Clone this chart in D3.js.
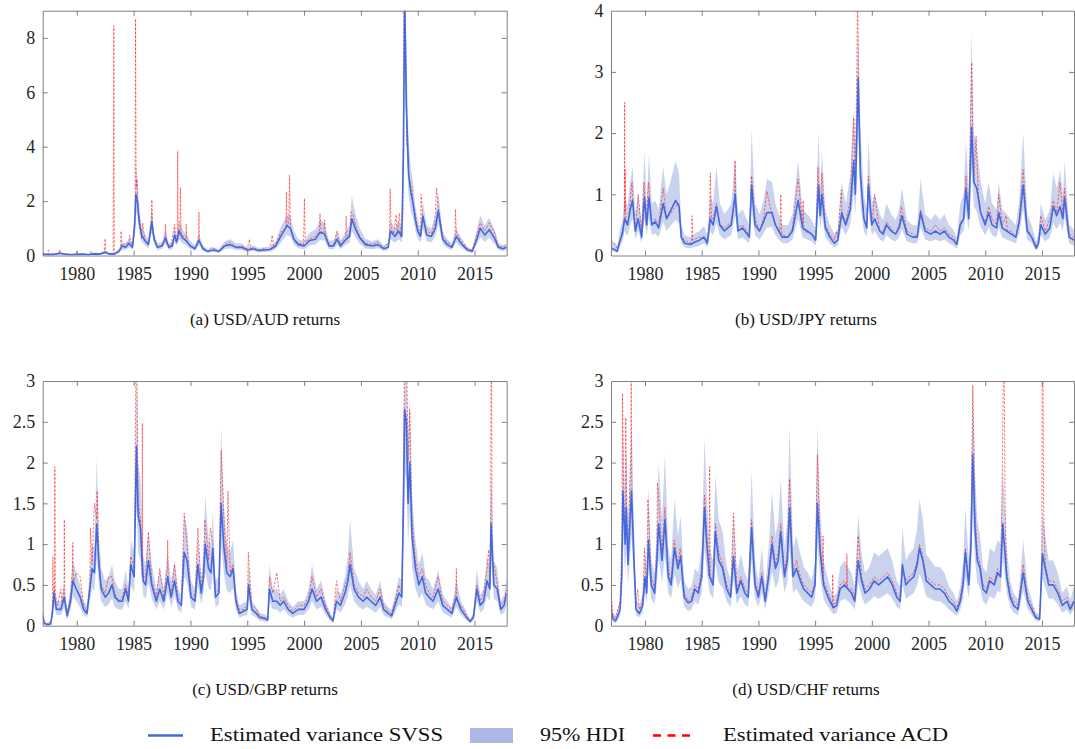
<!DOCTYPE html>
<html>
<head>
<meta charset="utf-8">
<script src="https://cdn.jsdelivr.net/npm/d3@7"></script>
<style>
  html, body { margin: 0; padding: 0; background: #fff; }
  svg { display: block; }
  .serif { font-family: "Liberation Serif", "LiberationSerif", "Times New Roman", Times, "DejaVu Serif", serif; }
</style>
</head>
<body>
<svg id="chart" width="1075" height="749"></svg>
<script>
// ---------------- DATA ----------------
const xTickYears = [1980, 1985, 1990, 1995, 2000, 2005, 2010, 2015];
const xDomainYears = [1977.0, 2017.83];

const yTicksAUD = [0, 2, 4, 6, 8];
const yTicksJPY = [0, 1, 2, 3, 4];
const yTicksGBP = [0, 0.5, 1, 1.5, 2, 2.5, 3];
const yTicksCHF = [0, 0.5, 1, 1.5, 2, 2.5, 3];

const captions = ["(a) USD/AUD returns", "(b) USD/JPY returns", "(c) USD/GBP returns", "(d) USD/CHF returns"];
const legendLabels = ["Estimated variance SVSS", "95% HDI", "Estimated variance ACD"];

// rows: [year, SVSS variance, HDI low, HDI high]
const audSvss = [
[1977.0,0.05,0.02,0.10],[1977.5,0.03,0.01,0.07],[1978.0,0.04,0.02,0.08],[1978.5,0.08,0.04,0.14],
[1979.0,0.04,0.02,0.08],[1979.5,0.03,0.01,0.06],[1980.0,0.04,0.02,0.08],[1980.5,0.05,0.02,0.09],
[1981.0,0.03,0.01,0.07],[1981.5,0.06,0.03,0.11],[1982.0,0.05,0.02,0.09],[1982.5,0.12,0.06,0.20],
[1982.8,0.06,0.03,0.11],[1983.3,0.05,0.02,0.10],[1983.7,0.15,0.08,0.25],[1984.0,0.35,0.22,0.50],
[1984.3,0.30,0.20,0.45],[1984.6,0.45,0.30,0.62],[1984.9,0.30,0.20,0.45],[1985.1,1.2,0.8,1.8],
[1985.2,2.25,1.6,3.3],[1985.35,1.95,1.4,2.8],[1985.5,1.2,0.85,1.7],[1985.7,0.75,0.5,1.05],
[1986.0,0.55,0.38,0.8],[1986.3,0.4,0.28,0.6],[1986.6,1.25,0.85,1.75],[1986.8,0.6,0.42,0.85],
[1987.1,0.3,0.2,0.45],[1987.5,0.35,0.24,0.5],[1987.8,0.65,0.45,0.95],[1988.1,0.3,0.2,0.45],
[1988.4,0.35,0.24,0.5],[1988.6,0.75,0.5,1.05],[1988.8,0.5,0.35,0.75],[1989.0,0.9,0.6,1.3],
[1989.3,0.65,0.45,0.95],[1989.6,0.55,0.38,0.8],[1990.0,0.35,0.24,0.52],[1990.4,0.25,0.17,0.38],
[1990.75,0.55,0.38,0.8],[1991.1,0.25,0.17,0.38],[1991.5,0.15,0.1,0.23],[1992.0,0.2,0.13,0.3],
[1992.5,0.15,0.1,0.23],[1993.0,0.35,0.23,0.52],[1993.5,0.4,0.27,0.6],[1994.0,0.3,0.2,0.45],
[1994.5,0.3,0.2,0.45],[1995.0,0.2,0.13,0.3],[1995.5,0.25,0.17,0.38],[1996.0,0.18,0.12,0.28],
[1996.5,0.2,0.13,0.3],[1997.0,0.22,0.15,0.33],[1997.5,0.35,0.23,0.52],[1998.0,0.75,0.5,1.1],
[1998.5,1.1,0.75,1.5],[1998.8,1.0,0.7,1.45],[1999.1,0.6,0.4,0.9],[1999.5,0.4,0.27,0.6],
[2000.0,0.35,0.23,0.52],[2000.5,0.55,0.37,0.85],[2001.0,0.6,0.4,0.95],[2001.4,0.85,0.57,1.3],
[2001.8,0.8,0.55,1.2],[2002.2,0.35,0.23,0.55],[2002.6,0.35,0.23,0.55],[2002.9,0.6,0.4,0.9],
[2003.2,0.35,0.23,0.55],[2003.7,0.6,0.4,0.9],[2004.0,0.7,0.47,1.1],[2004.2,1.35,0.9,2.2],
[2004.5,1.0,0.68,1.55],[2004.9,0.65,0.43,1.0],[2005.4,0.4,0.27,0.62],[2006.0,0.35,0.23,0.52],
[2006.5,0.4,0.27,0.6],[2007.0,0.25,0.17,0.38],[2007.4,0.3,0.2,0.45],[2007.6,0.9,0.6,1.3],
[2008.0,0.7,0.47,1.0],[2008.3,0.9,0.6,1.3],[2008.6,0.7,0.47,1.0],[2008.75,4.0,2.8,6.0],
[2008.85,9.6,7.5,11],[2009.0,5.5,4.0,7.5],[2009.2,3.0,2.2,4.2],[2009.4,2.3,1.6,3.2],
[2009.6,1.9,1.35,2.6],[2009.8,1.3,0.9,1.8],[2010.0,0.9,0.62,1.3],[2010.25,0.7,0.48,1.0],
[2010.45,1.45,1.0,2.0],[2010.8,0.75,0.52,1.1],[2011.2,0.7,0.48,1.0],[2011.55,1.0,0.7,1.45],
[2011.8,1.65,1.15,2.3],[2012.2,0.6,0.42,0.88],[2012.6,0.4,0.28,0.6],[2013.0,0.3,0.2,0.45],
[2013.4,0.7,0.48,1.0],[2013.9,0.4,0.28,0.6],[2014.4,0.2,0.13,0.3],[2014.8,0.15,0.1,0.23],
[2015.2,0.6,0.4,0.9],[2015.5,1.0,0.68,1.5],[2015.9,0.75,0.5,1.1],[2016.3,0.95,0.65,1.4],
[2016.8,0.6,0.4,0.9],[2017.1,0.3,0.2,0.45],[2017.5,0.25,0.17,0.38],[2017.83,0.3,0.2,0.45]
];
// rows: [year, ACD variance]
const audAcd = [
[1977.0,0.05],[1977.45,0.05],[1977.5,0.2],[1977.55,0.05],[1978.0,0.05],[1978.45,0.08],[1978.5,0.22],[1978.55,0.08],
[1979.5,0.04],[1979.95,0.04],[1980.0,0.15],[1980.05,0.04],[1981.2,0.04],[1981.25,0.15],[1981.3,0.05],[1982.4,0.08],
[1982.5,0.62],[1982.55,0.1],[1983.2,0.05],[1983.26,8.45],[1983.3,0.08],[1983.85,0.2],[1983.9,0.9],[1983.95,0.35],
[1984.6,0.5],[1984.65,0.75],[1984.9,0.3],[1985.12,1.0],[1985.17,8.7],[1985.22,2.5],[1985.3,2.8],[1985.4,1.6],
[1985.6,1.2],[1985.7,0.6],[1985.8,1.2],[1986.0,0.5],[1986.3,0.45],[1986.55,0.9],[1986.6,2.05],[1986.7,0.8],
[1987.1,0.3],[1987.5,0.4],[1987.75,0.5],[1987.8,1.15],[1987.9,0.4],[1988.3,0.35],[1988.6,1.15],[1988.7,0.5],
[1988.85,0.8],[1988.88,3.85],[1988.92,0.9],[1989.08,0.9],[1989.12,2.5],[1989.18,0.8],[1989.6,0.6],[1989.62,1.15],
[1989.7,0.5],[1990.0,0.35],[1990.4,0.25],[1990.7,0.6],[1990.75,1.6],[1990.8,0.5],[1991.1,0.3],[1991.5,0.15],
[1991.9,0.3],[1992.5,0.15],[1993.0,0.4],[1993.5,0.5],[1994.0,0.3],[1994.5,0.35],[1995.0,0.25],[1995.2,0.6],
[1995.3,0.2],[1995.5,0.3],[1996.0,0.2],[1996.5,0.25],[1997.0,0.2],[1997.2,0.75],[1997.3,0.3],[1997.5,0.4],
[1998.0,0.9],[1998.4,1.0],[1998.45,2.35],[1998.5,1.1],[1998.65,1.2],[1998.72,2.95],[1998.8,1.0],[1999.1,0.6],
[1999.5,0.45],[1999.95,0.4],[2000.03,2.1],[2000.1,0.5],[2000.5,0.6],[2001.0,0.7],[2001.35,0.9],[2001.4,1.55],
[2001.5,0.8],[2001.75,0.9],[2001.8,1.3],[2001.9,0.7],[2002.3,0.35],[2002.6,0.4],[2002.9,0.9],[2003.2,0.4],
[2003.65,0.7],[2003.7,1.45],[2003.8,0.6],[2004.0,0.8],[2004.15,1.6],[2004.3,1.5],[2004.6,1.0],[2004.9,0.7],
[2005.4,0.45],[2006.0,0.4],[2006.5,0.5],[2007.0,0.3],[2007.5,0.5],[2007.58,2.45],[2007.65,1.0],[2007.9,0.8],
[2008.1,1.5],[2008.2,0.8],[2008.4,1.55],[2008.5,0.7],[2008.7,1.5],[2008.78,9.5],[2008.9,9.5],[2009.0,6.0],
[2009.03,4.0],[2009.1,4.0],[2009.2,3.0],[2009.35,2.6],[2009.5,2.5],[2009.6,1.8],[2009.8,1.5],[2010.0,1.0],
[2010.25,0.8],[2010.3,2.25],[2010.4,1.5],[2010.8,0.9],[2011.2,0.8],[2011.5,1.2],[2011.66,2.5],[2011.8,1.8],
[2012.2,0.7],[2012.6,0.5],[2013.0,0.35],[2013.28,0.6],[2013.32,1.7],[2013.4,0.8],[2013.9,0.5],[2014.4,0.25],
[2014.8,0.2],[2015.2,0.8],[2015.5,1.2],[2015.9,0.9],[2016.3,1.2],[2016.8,0.8],[2017.1,0.35],[2017.5,0.3],[2017.83,0.4]
];

const jpySvss = [
[1977.0,0.12,0.07,0.25],[1977.3,0.1,0.06,0.2],[1977.55,0.07,0.04,0.15],[1977.8,0.25,0.15,0.42],
[1978.0,0.35,0.22,0.55],[1978.2,0.6,0.4,0.95],[1978.45,0.5,0.32,0.8],[1978.7,0.75,0.5,1.2],
[1978.9,0.9,0.6,1.45],[1979.15,0.4,0.26,0.7],[1979.4,0.6,0.4,1.0],[1979.7,0.3,0.2,0.55],
[1979.95,0.95,0.6,1.7],[1980.15,0.5,0.33,0.85],[1980.35,0.95,0.6,1.65],[1980.6,0.5,0.33,0.85],
[1980.9,0.55,0.36,0.9],[1981.2,0.45,0.3,0.75],[1981.6,0.85,0.55,1.45],[1981.9,0.6,0.4,1.0],
[1982.3,0.75,0.5,1.25],[1982.7,0.9,0.58,1.55],[1983.0,0.8,0.52,1.35],[1983.2,0.3,0.2,0.5],
[1983.5,0.2,0.13,0.33],[1984.0,0.18,0.12,0.3],[1984.4,0.22,0.14,0.36],[1984.8,0.25,0.16,0.4],
[1985.2,0.3,0.2,0.48],[1985.5,0.2,0.13,0.33],[1985.75,0.6,0.4,1.0],[1986.0,0.5,0.33,0.85],
[1986.3,0.8,0.53,1.45],[1986.6,0.5,0.33,0.85],[1987.0,0.4,0.26,0.68],[1987.3,0.45,0.3,0.75],
[1987.6,0.5,0.33,0.85],[1987.95,1.0,0.65,1.6],[1988.2,0.4,0.26,0.68],[1988.6,0.45,0.3,0.75],
[1989.0,0.35,0.23,0.58],[1989.2,0.3,0.2,0.5],[1989.4,1.15,0.75,2.05],[1989.7,0.5,0.33,0.85],
[1990.1,0.4,0.26,0.68],[1990.45,0.55,0.36,0.9],[1990.75,0.7,0.46,1.25],[1991.2,0.7,0.46,1.2],
[1991.5,0.5,0.33,0.85],[1991.8,0.4,0.26,0.68],[1992.1,0.3,0.2,0.5],[1992.6,0.3,0.2,0.5],
[1993.0,0.4,0.26,0.68],[1993.5,0.9,0.6,1.55],[1993.9,0.45,0.3,0.75],[1994.3,0.4,0.26,0.68],
[1994.7,0.35,0.23,0.58],[1995.05,0.25,0.16,0.42],[1995.3,1.15,0.75,2.05],[1995.45,0.65,0.43,1.1],
[1995.6,1.0,0.65,1.7],[1995.9,0.45,0.3,0.75],[1996.3,0.3,0.2,0.5],[1996.7,0.2,0.13,0.35],
[1997.0,0.25,0.16,0.42],[1997.35,0.7,0.46,1.2],[1997.7,0.5,0.33,0.85],[1998.1,0.75,0.5,1.3],
[1998.4,1.55,1.0,2.4],[1998.55,1.0,0.65,1.8],[1998.8,2.9,2.0,3.7],[1999.0,1.3,0.85,2.1],
[1999.3,0.6,0.4,1.0],[1999.55,0.45,0.3,0.75],[1999.7,1.15,0.75,1.9],[2000.0,0.5,0.33,0.85],
[2000.25,0.6,0.4,1.0],[2000.7,0.4,0.26,0.68],[2001.0,0.35,0.23,0.58],[2001.3,0.5,0.33,0.85],
[2001.7,0.4,0.26,0.68],[2002.1,0.35,0.23,0.58],[2002.4,0.45,0.3,0.75],[2002.65,0.65,0.43,1.1],
[2003.1,0.35,0.23,0.58],[2003.6,0.3,0.2,0.5],[2004.0,0.3,0.2,0.5],[2004.3,0.7,0.46,1.25],
[2004.7,0.4,0.26,0.68],[2005.2,0.35,0.23,0.58],[2005.6,0.4,0.26,0.68],[2006.0,0.35,0.23,0.58],
[2006.4,0.4,0.26,0.68],[2006.8,0.3,0.2,0.5],[2007.2,0.25,0.16,0.42],[2007.5,0.18,0.11,0.3],
[2007.8,0.5,0.33,0.85],[2008.1,0.6,0.4,1.0],[2008.3,1.1,0.72,1.9],[2008.55,0.6,0.4,1.0],
[2008.8,2.1,1.4,3.65],[2009.0,1.2,0.8,2.0],[2009.25,1.1,0.72,1.8],[2009.6,0.7,0.46,1.2],
[2010.0,0.5,0.33,0.85],[2010.3,0.7,0.46,1.2],[2010.6,0.5,0.33,0.85],[2011.0,0.45,0.3,0.75],
[2011.2,0.7,0.46,1.2],[2011.5,0.45,0.3,0.75],[2011.9,0.4,0.26,0.68],[2012.3,0.35,0.23,0.58],
[2012.7,0.3,0.2,0.5],[2013.0,0.55,0.36,0.9],[2013.35,1.15,0.75,2.0],[2013.7,0.4,0.26,0.68],
[2014.1,0.3,0.2,0.5],[2014.5,0.12,0.08,0.22],[2014.7,0.2,0.13,0.35],[2014.9,0.5,0.33,0.85],
[2015.3,0.35,0.23,0.58],[2015.7,0.45,0.3,0.75],[2016.0,0.8,0.53,1.35],[2016.3,0.65,0.43,1.1],
[2016.6,0.8,0.53,1.4],[2016.85,0.6,0.4,1.0],[2017.0,0.95,0.62,1.55],[2017.4,0.3,0.2,0.5],
[2017.83,0.25,0.16,0.42]
];
const jpyAcd = [
[1977.0,0.25],[1977.3,0.2],[1977.55,0.12],[1977.8,0.25],[1978.0,0.4],[1978.18,0.6],[1978.2,2.5],[1978.22,0.7],
[1978.25,1.4],[1978.3,0.6],[1978.5,0.5],[1978.85,1.2],[1979.0,0.7],[1979.15,0.4],[1979.4,1.0],[1979.7,0.35],
[1979.9,1.2],[1980.1,0.5],[1980.3,1.2],[1980.6,0.5],[1980.9,0.6],[1981.2,0.5],[1981.6,1.1],[1981.9,0.6],
[1982.3,0.7],[1982.7,0.8],[1983.0,0.85],[1983.2,0.3],[1983.5,0.25],[1984.0,0.2],[1984.12,0.25],[1984.15,0.65],
[1984.2,0.25],[1984.8,0.3],[1985.2,0.3],[1985.5,0.25],[1985.7,0.6],[1985.76,1.35],[1985.85,0.6],[1986.0,0.6],
[1986.3,0.85],[1986.6,0.5],[1987.0,0.45],[1987.3,0.5],[1987.6,0.55],[1987.9,0.9],[1987.94,1.55],[1988.0,0.7],
[1988.2,0.45],[1988.6,0.5],[1989.0,0.4],[1989.2,0.3],[1989.4,1.3],[1989.7,0.6],[1990.1,0.4],[1990.45,0.6],
[1990.75,1.05],[1991.2,0.65],[1991.5,0.5],[1991.9,0.4],[1991.97,1.0],[1992.05,0.35],[1992.6,0.3],[1993.0,0.45],
[1993.5,1.25],[1993.9,0.5],[1993.95,0.9],[1994.0,0.4],[1994.7,0.35],[1995.05,0.3],[1995.25,1.45],[1995.45,0.7],
[1995.6,1.35],[1995.9,0.5],[1996.3,0.35],[1996.7,0.25],[1996.9,0.4],[1997.0,0.3],[1997.3,1.07],[1997.4,0.6],
[1997.7,0.55],[1998.1,0.9],[1998.4,2.25],[1998.55,1.2],[1998.75,4.2],[1998.85,2.5],[1999.0,1.4],[1999.3,0.6],
[1999.55,0.45],[1999.7,1.3],[2000.0,0.5],[2000.25,1.0],[2000.7,0.4],[2001.0,0.4],[2001.3,0.55],[2001.7,0.45],
[2002.1,0.35],[2002.4,0.5],[2002.6,0.8],[2003.1,0.4],[2003.6,0.35],[2004.0,0.3],[2004.3,0.75],[2004.7,0.45],
[2005.2,0.4],[2005.6,0.5],[2006.0,0.4],[2006.4,0.45],[2006.8,0.35],[2007.2,0.3],[2007.5,0.22],[2007.8,0.55],
[2008.1,0.6],[2008.3,1.3],[2008.55,0.7],[2008.8,3.15],[2008.9,2.0],[2009.0,1.3],[2009.2,1.95],[2009.4,1.0],
[2009.6,0.7],[2010.0,0.55],[2010.3,0.8],[2010.6,0.6],[2011.0,0.5],[2011.2,1.0],[2011.5,0.5],[2011.85,0.65],
[2011.95,0.4],[2012.3,0.4],[2012.7,0.3],[2013.0,0.6],[2013.35,1.4],[2013.7,0.45],[2014.1,0.3],[2014.5,0.15],
[2014.7,0.25],[2014.9,0.65],[2015.3,0.4],[2015.7,0.6],[2016.0,0.9],[2016.3,0.7],[2016.6,1.2],[2016.85,0.7],
[2017.0,1.1],[2017.4,0.35],[2017.83,0.3]
];

const gbpSvss = [
[1977.0,0.12,0.06,0.18],[1977.15,0.03,0.01,0.06],[1977.4,0.01,0.0,0.03],[1977.7,0.02,0.01,0.05],
[1977.85,0.15,0.08,0.25],[1978.0,0.4,0.25,0.55],[1978.2,0.2,0.13,0.3],[1978.6,0.2,0.13,0.3],
[1978.9,0.35,0.22,0.5],[1979.15,0.12,0.07,0.2],[1979.45,0.3,0.2,0.45],[1979.65,0.55,0.36,0.8],
[1979.95,0.45,0.3,0.65],[1980.3,0.35,0.22,0.5],[1980.6,0.2,0.13,0.3],[1980.9,0.15,0.1,0.25],
[1981.15,0.45,0.3,0.68],[1981.35,0.7,0.46,1.0],[1981.55,0.65,0.43,0.95],[1981.75,1.25,0.82,2.05],
[1981.95,0.75,0.5,1.1],[1982.15,0.45,0.3,0.7],[1982.5,0.35,0.23,0.55],[1982.8,0.4,0.26,0.6],
[1983.1,0.5,0.33,0.75],[1983.35,0.35,0.23,0.55],[1983.7,0.3,0.2,0.45],[1984.0,0.3,0.2,0.45],
[1984.3,0.45,0.3,0.68],[1984.55,0.3,0.2,0.45],[1984.75,0.75,0.5,1.05],[1985.05,0.6,0.4,0.9],
[1985.25,2.2,1.5,3.1],[1985.4,1.35,0.9,2.0],[1985.6,1.2,0.8,1.8],[1985.85,0.55,0.37,0.85],
[1986.05,0.5,0.33,0.75],[1986.3,0.8,0.53,1.15],[1986.6,0.5,0.33,0.75],[1987.0,0.3,0.2,0.45],
[1987.3,0.45,0.3,0.68],[1987.65,0.3,0.2,0.45],[1988.0,0.6,0.4,0.9],[1988.3,0.35,0.23,0.55],
[1988.6,0.55,0.37,0.8],[1988.9,0.3,0.2,0.45],[1989.2,0.25,0.16,0.38],[1989.45,0.9,0.6,1.35],
[1989.7,0.8,0.53,1.2],[1990.05,0.35,0.23,0.55],[1990.4,0.3,0.2,0.45],[1990.65,0.75,0.5,1.1],
[1990.95,0.4,0.26,0.6],[1991.15,0.6,0.4,0.9],[1991.3,1.0,0.66,1.6],[1991.6,0.7,0.46,1.05],
[1991.8,0.65,0.43,1.0],[1991.97,0.95,0.63,1.4],[1992.2,0.35,0.23,0.55],[1992.5,0.4,0.26,0.6],
[1992.7,1.5,1.0,2.45],[1992.95,0.95,0.63,1.45],[1993.2,0.65,0.43,1.0],[1993.5,0.6,0.4,0.9],
[1993.75,0.7,0.46,1.05],[1994.0,0.3,0.2,0.45],[1994.3,0.15,0.1,0.25],[1994.7,0.18,0.12,0.28],
[1995.0,0.2,0.13,0.3],[1995.12,0.5,0.33,0.75],[1995.4,0.2,0.13,0.3],[1995.8,0.15,0.1,0.23],
[1996.1,0.1,0.06,0.16],[1996.5,0.09,0.05,0.14],[1996.8,0.07,0.04,0.12],[1996.95,0.45,0.3,0.75],
[1997.25,0.3,0.2,0.45],[1997.6,0.3,0.2,0.45],[1997.9,0.25,0.16,0.38],[1998.2,0.3,0.2,0.45],
[1998.6,0.2,0.13,0.3],[1999.0,0.15,0.1,0.23],[1999.5,0.2,0.13,0.3],[2000.0,0.2,0.13,0.3],
[2000.4,0.3,0.2,0.45],[2000.7,0.45,0.3,0.75],[2001.1,0.3,0.2,0.45],[2001.5,0.35,0.23,0.55],
[2001.9,0.2,0.13,0.3],[2002.3,0.1,0.06,0.16],[2002.55,0.06,0.03,0.1],[2002.85,0.3,0.2,0.45],
[2003.2,0.25,0.16,0.38],[2003.6,0.4,0.26,0.6],[2003.85,0.55,0.36,0.85],[2004.05,0.75,0.5,1.3],
[2004.4,0.45,0.3,0.7],[2004.8,0.35,0.23,0.55],[2005.2,0.3,0.2,0.45],[2005.5,0.35,0.23,0.55],
[2005.9,0.3,0.2,0.45],[2006.3,0.25,0.16,0.38],[2006.7,0.35,0.23,0.55],[2007.0,0.2,0.13,0.3],
[2007.4,0.15,0.1,0.23],[2007.7,0.12,0.08,0.2],[2008.0,0.25,0.16,0.38],[2008.35,0.4,0.26,0.6],
[2008.6,0.35,0.23,0.55],[2008.75,1.5,1.0,2.3],[2008.85,2.65,1.9,3.3],[2009.0,2.5,1.8,3.2],
[2009.15,1.5,1.0,2.2],[2009.3,2.0,1.4,2.8],[2009.5,1.1,0.73,1.6],[2009.8,0.7,0.46,1.05],
[2010.1,0.5,0.33,0.75],[2010.4,0.6,0.4,0.9],[2010.7,0.4,0.26,0.6],[2011.0,0.35,0.23,0.55],
[2011.35,0.3,0.2,0.45],[2011.8,0.45,0.3,0.68],[2012.2,0.25,0.16,0.38],[2012.6,0.2,0.13,0.3],
[2013.0,0.15,0.1,0.23],[2013.4,0.35,0.23,0.55],[2013.8,0.2,0.13,0.3],[2014.2,0.12,0.08,0.2],
[2014.6,0.05,0.03,0.08],[2014.9,0.1,0.06,0.16],[2015.2,0.45,0.3,0.7],[2015.5,0.25,0.16,0.38],
[2015.8,0.3,0.2,0.45],[2016.1,0.55,0.36,0.85],[2016.35,0.45,0.3,0.7],[2016.45,1.25,0.8,1.9],
[2016.7,0.5,0.33,0.8],[2017.0,0.45,0.3,0.7],[2017.3,0.2,0.13,0.3],[2017.6,0.25,0.16,0.38],
[2017.83,0.4,0.26,0.62]
];
const gbpAcd = [
[1977.0,0.15],[1977.15,0.04],[1977.4,0.02],[1977.55,0.05],[1977.7,0.02],[1977.85,0.2],[1977.9,0.85],[1977.95,0.3],
[1978.05,0.45],[1978.07,1.95],[1978.1,0.4],[1978.3,0.25],[1978.6,0.45],[1978.7,0.25],[1978.88,0.5],[1978.9,1.3],
[1978.95,0.3],[1979.15,0.15],[1979.45,0.35],[1979.62,0.7],[1979.65,1.02],[1979.7,0.5],[1979.95,0.65],[1980.3,0.6],
[1980.6,0.25],[1980.9,0.18],[1981.15,0.5],[1981.2,1.2],[1981.35,0.75],[1981.55,1.5],[1981.75,1.3],[1981.8,1.65],
[1981.95,0.8],[1982.15,0.5],[1982.5,0.4],[1982.8,0.6],[1983.1,0.6],[1983.35,0.4],[1983.7,0.3],[1984.0,0.35],
[1984.3,0.5],[1984.55,0.35],[1984.75,0.85],[1985.05,0.7],[1985.2,3.1],[1985.3,3.1],[1985.4,1.5],[1985.6,1.3],
[1985.75,0.6],[1985.77,2.48],[1985.8,0.6],[1986.05,0.6],[1986.3,1.15],[1986.6,0.55],[1987.0,0.35],[1987.3,0.7],
[1987.65,0.35],[1987.95,0.7],[1988.0,1.05],[1988.05,0.5],[1988.3,0.4],[1988.6,0.75],[1988.9,0.35],[1989.2,0.3],
[1989.45,1.38],[1989.7,1.0],[1990.05,0.4],[1990.4,0.35],[1990.66,1.2],[1990.95,0.45],[1991.15,0.7],[1991.27,1.3],
[1991.6,0.8],[1991.75,1.2],[1991.97,1.0],[1992.2,0.4],[1992.5,0.45],[1992.7,2.15],[1992.95,1.3],[1993.2,0.7],
[1993.3,1.65],[1993.5,0.65],[1993.75,0.75],[1994.0,0.35],[1994.3,0.2],[1994.7,0.2],[1995.0,0.25],[1995.1,0.9],
[1995.4,0.25],[1995.8,0.2],[1996.1,0.12],[1996.5,0.1],[1996.8,0.08],[1996.95,0.6],[1997.25,0.4],[1997.6,0.65],
[1997.9,0.3],[1998.2,0.35],[1998.6,0.25],[1999.0,0.18],[1999.5,0.25],[2000.0,0.25],[2000.4,0.35],[2000.7,0.6],
[2001.1,0.35],[2001.5,0.45],[2001.9,0.25],[2002.3,0.12],[2002.55,0.07],[2002.85,0.55],[2003.2,0.3],[2003.6,0.5],
[2003.85,0.6],[2004.05,0.9],[2004.4,0.5],[2004.8,0.4],[2005.2,0.35],[2005.5,0.45],[2005.9,0.35],[2006.3,0.3],
[2006.7,0.45],[2007.0,0.25],[2007.4,0.18],[2007.7,0.15],[2008.0,0.3],[2008.35,0.5],[2008.6,0.4],[2008.75,2.0],
[2008.82,3.1],[2009.05,3.1],[2009.15,2.0],[2009.3,2.65],[2009.5,1.3],[2009.8,0.8],[2010.1,0.6],[2010.4,0.7],
[2010.7,0.5],[2011.0,0.4],[2011.35,0.35],[2011.8,0.6],[2012.2,0.3],[2012.6,0.25],[2013.0,0.2],[2013.35,0.4],
[2013.4,0.7],[2013.45,0.3],[2013.8,0.25],[2014.2,0.15],[2014.6,0.06],[2014.9,0.12],[2015.2,0.5],[2015.5,0.3],
[2015.8,0.4],[2016.1,0.7],[2016.25,0.93],[2016.35,0.5],[2016.42,1.5],[2016.45,3.1],[2016.5,3.1],[2016.55,0.8],
[2016.7,0.75],[2017.0,0.5],[2017.3,0.25],[2017.6,0.3],[2017.83,0.45]
];

const chfSvss = [
[1977.0,0.18,0.1,0.3],[1977.2,0.08,0.04,0.15],[1977.4,0.06,0.03,0.12],[1977.6,0.12,0.07,0.2],
[1977.8,0.2,0.12,0.32],[1977.95,0.6,0.38,0.95],[1978.05,1.65,1.1,2.5],[1978.25,1.0,0.65,1.55],
[1978.35,1.45,0.95,2.2],[1978.5,0.75,0.5,1.15],[1978.65,1.2,0.8,1.8],[1978.8,1.65,1.1,2.45],
[1979.0,0.9,0.6,1.4],[1979.2,0.2,0.13,0.32],[1979.5,0.15,0.1,0.25],[1979.8,0.25,0.16,0.4],
[1980.0,0.6,0.4,0.95],[1980.15,0.4,0.26,0.65],[1980.3,1.05,0.7,1.7],[1980.55,0.5,0.33,0.8],
[1980.85,0.4,0.26,0.65],[1981.05,0.8,0.53,1.25],[1981.2,1.25,0.82,2.0],[1981.5,0.8,0.53,1.3],
[1981.76,1.3,0.85,2.1],[1982.05,0.6,0.4,0.95],[1982.3,0.5,0.33,0.8],[1982.6,0.95,0.63,1.55],
[1982.9,0.7,0.46,1.1],[1983.15,0.85,0.56,1.35],[1983.45,0.35,0.23,0.55],[1983.8,0.28,0.18,0.45],
[1984.1,0.3,0.2,0.48],[1984.4,0.45,0.3,0.7],[1984.7,0.4,0.26,0.65],[1985.0,0.6,0.4,0.95],
[1985.25,1.45,0.95,2.3],[1985.45,1.0,0.66,1.6],[1985.7,0.6,0.4,0.95],[1986.0,0.5,0.33,0.8],
[1986.2,1.15,0.76,1.85],[1986.5,0.8,0.53,1.3],[1986.85,0.7,0.46,1.15],[1987.2,0.45,0.3,0.72],
[1987.55,0.35,0.23,0.55],[1987.8,0.85,0.56,1.35],[1988.1,0.4,0.26,0.65],[1988.45,0.55,0.36,0.88],
[1988.8,0.4,0.26,0.65],[1989.1,0.35,0.23,0.55],[1989.4,1.2,0.8,1.9],[1989.7,0.5,0.33,0.8],
[1990.0,0.35,0.23,0.55],[1990.3,0.6,0.4,0.95],[1990.6,0.3,0.2,0.48],[1990.9,0.6,0.4,0.95],
[1991.2,1.0,0.66,1.65],[1991.5,0.7,0.46,1.1],[1991.75,0.8,0.53,1.3],[1991.97,1.15,0.76,1.8],
[1992.3,0.6,0.4,0.95],[1992.55,0.8,0.53,1.3],[1992.75,1.45,0.95,2.45],[1993.05,0.6,0.4,0.95],
[1993.35,0.7,0.46,1.1],[1993.7,0.55,0.36,0.88],[1994.0,0.45,0.3,0.72],[1994.35,0.4,0.26,0.65],
[1994.7,0.35,0.23,0.55],[1995.0,0.5,0.33,0.8],[1995.2,1.5,1.0,2.45],[1995.45,0.9,0.6,1.4],
[1995.75,0.5,0.33,0.8],[1996.0,0.4,0.26,0.65],[1996.3,0.3,0.2,0.48],[1996.6,0.22,0.14,0.36],
[1996.9,0.25,0.16,0.4],[1997.2,0.45,0.3,0.72],[1997.6,0.5,0.33,0.8],[1997.9,0.45,0.3,0.72],
[1998.2,0.4,0.26,0.65],[1998.5,0.3,0.2,0.48],[1998.8,0.8,0.53,1.35],[1999.1,0.55,0.36,0.88],
[1999.4,0.4,0.26,0.65],[1999.8,0.45,0.3,0.72],[2000.2,0.55,0.36,0.9],[2000.6,0.5,0.33,0.85],
[2001.0,0.55,0.36,0.9],[2001.4,0.6,0.4,0.95],[2001.8,0.5,0.33,0.8],[2002.2,0.35,0.23,0.55],
[2002.5,0.3,0.2,0.48],[2002.7,0.75,0.5,1.2],[2003.0,0.5,0.33,0.8],[2003.3,0.55,0.36,0.88],
[2003.7,0.6,0.4,0.95],[2004.0,0.75,0.5,1.2],[2004.2,0.95,0.63,1.55],[2004.5,0.8,0.53,1.3],
[2004.8,0.55,0.36,0.88],[2005.2,0.5,0.33,0.8],[2005.6,0.45,0.3,0.72],[2006.0,0.45,0.3,0.72],
[2006.4,0.4,0.26,0.65],[2006.8,0.3,0.2,0.48],[2007.2,0.25,0.16,0.4],[2007.5,0.18,0.12,0.3],
[2007.8,0.3,0.2,0.48],[2008.05,0.5,0.33,0.8],[2008.25,0.9,0.6,1.45],[2008.55,0.5,0.33,0.8],
[2008.75,1.0,0.66,1.6],[2008.9,2.1,1.4,3.0],[2009.1,1.2,0.8,1.9],[2009.3,0.8,0.53,1.3],
[2009.55,0.7,0.46,1.1],[2009.8,0.45,0.3,0.72],[2010.1,0.4,0.26,0.65],[2010.4,0.55,0.36,0.95],
[2010.8,0.5,0.33,0.9],[2011.1,0.65,0.43,1.05],[2011.35,0.6,0.4,1.0],[2011.55,1.25,0.83,1.95],
[2011.9,0.6,0.4,0.95],[2012.2,0.35,0.23,0.55],[2012.5,0.25,0.16,0.4],[2012.9,0.2,0.13,0.32],
[2013.15,0.45,0.3,0.72],[2013.35,0.65,0.43,1.05],[2013.75,0.3,0.2,0.48],[2014.1,0.2,0.13,0.32],
[2014.45,0.1,0.06,0.16],[2014.8,0.08,0.05,0.14],[2015.05,0.88,0.58,1.4],[2015.3,0.7,0.46,1.1],
[2015.6,0.5,0.33,0.8],[2016.0,0.5,0.33,0.8],[2016.4,0.4,0.26,0.65],[2016.8,0.25,0.16,0.4],
[2017.2,0.3,0.2,0.48],[2017.5,0.2,0.13,0.32],[2017.83,0.3,0.2,0.48]
];
const chfAcd = [
[1977.0,0.4],[1977.2,0.12],[1977.4,0.1],[1977.6,0.2],[1977.8,0.3],[1977.95,1.0],[1978.02,2.85],[1978.1,1.5],
[1978.25,1.1],[1978.3,2.55],[1978.38,1.3],[1978.5,0.9],[1978.65,1.7],[1978.75,2.1],[1978.78,3.0],[1978.85,1.5],
[1979.0,0.9],[1979.2,0.25],[1979.35,0.45],[1979.5,0.2],[1979.8,0.3],[1979.95,0.95],[1980.15,0.45],[1980.25,1.55],
[1980.55,0.6],[1980.85,0.45],[1981.05,1.0],[1981.1,1.75],[1981.5,0.9],[1981.75,1.45],[1982.05,0.7],[1982.3,0.55],
[1982.58,1.05],[1982.9,0.75],[1983.1,0.95],[1983.45,0.4],[1983.8,0.3],[1984.1,0.35],[1984.4,0.5],[1984.7,0.45],
[1985.0,0.7],[1985.25,1.6],[1985.45,1.1],[1985.65,0.6],[1985.7,1.95],[1985.75,0.6],[1986.0,0.55],[1986.2,1.25],
[1986.5,0.9],[1986.85,0.75],[1987.2,0.5],[1987.55,0.4],[1987.8,1.38],[1988.1,0.45],[1988.45,0.6],[1988.8,0.45],
[1989.1,0.4],[1989.4,1.3],[1989.7,0.55],[1990.0,0.4],[1990.3,0.65],[1990.6,0.35],[1990.9,0.65],[1991.2,1.1],
[1991.5,0.75],[1991.75,0.9],[1991.97,1.25],[1992.3,0.65],[1992.55,0.9],[1992.75,1.8],[1993.05,0.65],[1993.35,0.8],
[1993.7,0.6],[1994.0,0.5],[1994.35,0.45],[1994.7,0.4],[1995.0,0.55],[1995.2,2.1],[1995.45,1.0],[1995.68,0.6],
[1995.7,1.1],[1995.75,0.55],[1996.0,0.45],[1996.3,0.35],[1996.52,0.25],[1996.55,0.63],[1996.6,0.25],[1996.9,0.3],
[1997.2,0.5],[1997.6,0.55],[1997.78,0.45],[1997.8,0.88],[1997.85,0.45],[1998.2,0.45],[1998.5,0.35],[1998.8,1.1],
[1999.1,0.6],[1999.4,0.45],[1999.8,0.5],[2000.2,0.6],[2000.6,0.55],[2001.0,0.6],[2001.4,0.65],[2001.8,0.55],
[2002.2,0.4],[2002.5,0.35],[2002.7,0.7],[2003.0,0.55],[2003.3,0.6],[2003.7,0.65],[2004.0,0.8],[2004.2,1.0],
[2004.5,0.85],[2004.8,0.6],[2005.2,0.55],[2005.6,0.5],[2006.0,0.5],[2006.4,0.45],[2006.8,0.35],[2007.2,0.3],
[2007.5,0.22],[2007.8,0.35],[2008.05,0.55],[2008.25,0.95],[2008.55,0.55],[2008.75,1.1],[2008.9,2.95],[2009.1,1.4],
[2009.3,0.9],[2009.55,0.75],[2009.8,0.5],[2010.1,0.45],[2010.4,0.6],[2010.8,0.55],[2011.1,0.7],[2011.35,0.65],
[2011.5,1.75],[2011.6,3.1],[2011.68,3.1],[2011.75,1.5],[2011.9,0.65],[2012.2,0.4],[2012.5,0.3],[2012.9,0.25],
[2013.15,0.5],[2013.35,0.75],[2013.75,0.35],[2014.1,0.25],[2014.45,0.12],[2014.8,0.1],[2015.0,0.9],[2015.02,3.1],
[2015.1,3.1],[2015.15,1.4],[2015.3,0.75],[2015.6,0.55],[2016.0,0.55],[2016.4,0.45],[2016.8,0.3],[2017.2,0.35],
[2017.5,0.25],[2017.83,0.3]
];

// ---------------- LAYOUT / STYLE ----------------
const W = 1075, H = 749;
const colBlue = "#4169e1", colBand = "#aab8e3", colRed = "#ff0000", colAxis = "#808080", colText = "#262626";

const panels = [
  { svss: audSvss, acd: audAcd, yMax: 9, yTicks: yTicksAUD, left: 42.7, right: 506.7, top: 10.7, bottom: 255.5, cap: captions[0], cx: 265, cy: 325 },
  { svss: jpySvss, acd: jpyAcd, yMax: 4, yTicks: yTicksJPY, left: 611, right: 1074, top: 10.7, bottom: 255.5, cap: captions[1], cx: 806, cy: 325 },
  { svss: gbpSvss, acd: gbpAcd, yMax: 3, yTicks: yTicksGBP, left: 42.7, right: 506.7, top: 381, bottom: 625.7, cap: captions[2], cx: 265, cy: 695 },
  { svss: chfSvss, acd: chfAcd, yMax: 3, yTicks: yTicksCHF, left: 611, right: 1074, top: 381, bottom: 625.7, cap: captions[3], cx: 806, cy: 695 }
];

const svg = d3.select("#chart");
svg.append("rect").attr("width", W).attr("height", H).attr("fill", "#fff");
const defs = svg.append("defs");

function styleAxis(g) {
  g.attr("font-family", null).attr("font-size", null);
  g.select(".domain").attr("stroke", colAxis).attr("stroke-width", 1);
  g.selectAll(".tick line").attr("stroke", colAxis).attr("stroke-width", 1);
  g.selectAll(".tick text").attr("fill", colText).attr("class", "serif").style("font-size", "18px");
}

panels.forEach((p, i) => {
  const x = d3.scaleLinear().domain(xDomainYears).range([p.left, p.right]);
  const y = d3.scaleLinear().domain([0, p.yMax]).range([p.bottom, p.top]);

  const cid = "clip" + i;
  defs.append("clipPath").attr("id", cid).append("rect")
    .attr("x", p.left).attr("y", p.top).attr("width", p.right - p.left).attr("height", p.bottom - p.top);

  const g = svg.append("g").attr("clip-path", `url(#${cid})`);

  g.append("path").datum(p.svss)
    .attr("d", d3.area().x(d => x(d[0])).y0(d => y(d[2])).y1(d => y(d[3])))
    .attr("fill", colBand).attr("fill-opacity", 0.62).attr("stroke", "none");

  g.append("path").datum(p.acd)
    .attr("d", d3.line().x(d => x(d[0])).y(d => y(d[1])))
    .attr("fill", "none").attr("stroke", colRed).attr("stroke-width", 0.9)
    .attr("stroke-dasharray", "2.5,1.5").attr("stroke-opacity", 0.6);

  g.append("path").datum(p.svss)
    .attr("d", d3.line().x(d => x(d[0])).y(d => y(d[1])))
    .attr("fill", "none").attr("stroke", colBlue).attr("stroke-width", 1.6).attr("stroke-linejoin", "round");

  // axes (ticks inward on all four sides)
  const fmt = d3.format("~g");
  const gb = svg.append("g").attr("transform", `translate(0,${p.bottom})`)
    .call(d3.axisBottom(x).tickValues(xTickYears).tickFormat(d3.format("d")).tickSizeInner(-5).tickSizeOuter(0).tickPadding(11.7));
  styleAxis(gb);
  const gt = svg.append("g").attr("transform", `translate(0,${p.top})`)
    .call(d3.axisTop(x).tickValues(xTickYears).tickFormat("").tickSizeInner(-5).tickSizeOuter(0));
  styleAxis(gt);
  const gl = svg.append("g").attr("transform", `translate(${p.left},0)`)
    .call(d3.axisLeft(y).tickValues(p.yTicks).tickFormat(fmt).tickSizeInner(-5).tickSizeOuter(0).tickPadding(7.5));
  styleAxis(gl);
  const gr = svg.append("g").attr("transform", `translate(${p.right},0)`)
    .call(d3.axisRight(y).tickValues(p.yTicks).tickFormat("").tickSizeInner(-5).tickSizeOuter(0));
  styleAxis(gr);
  [gl, gr].forEach(a => a.selectAll(".tick").filter(d => d === 0 || d === p.yMax).select("line").remove());

  svg.append("text").attr("class", "serif").attr("x", p.cx).attr("y", p.cy).attr("text-anchor", "middle")
    .style("font-size", "17px").attr("fill", "#111")
    .text(p.cap);
});

// ---------------- LEGEND ----------------
const lg = svg.append("g");
const legY = 735.5;
lg.append("line").attr("x1", 148).attr("x2", 183).attr("y1", legY).attr("y2", legY)
  .attr("stroke", colBlue).attr("stroke-width", 2.6);
lg.append("text").attr("class", "serif").attr("x", 210).attr("y", 741).attr("textLength", 233).attr("lengthAdjust", "spacingAndGlyphs")
  .style("font-size", "19px").attr("fill", "#111").text(legendLabels[0]);
lg.append("rect").attr("x", 470).attr("y", 728).attr("width", 43).attr("height", 15).attr("fill", colBand);
lg.append("text").attr("class", "serif").attr("x", 540).attr("y", 741).attr("textLength", 85).attr("lengthAdjust", "spacingAndGlyphs")
  .style("font-size", "19px").attr("fill", "#111").text(legendLabels[1]);
lg.append("line").attr("x1", 653).attr("x2", 690).attr("y1", legY).attr("y2", legY)
  .attr("stroke", colRed).attr("stroke-width", 2.6).attr("stroke-dasharray", "8,6.5");
lg.append("text").attr("class", "serif").attr("x", 723).attr("y", 741).attr("textLength", 225).attr("lengthAdjust", "spacingAndGlyphs")
  .style("font-size", "19px").attr("fill", "#111").text(legendLabels[2]);
</script>
</body>
</html>
